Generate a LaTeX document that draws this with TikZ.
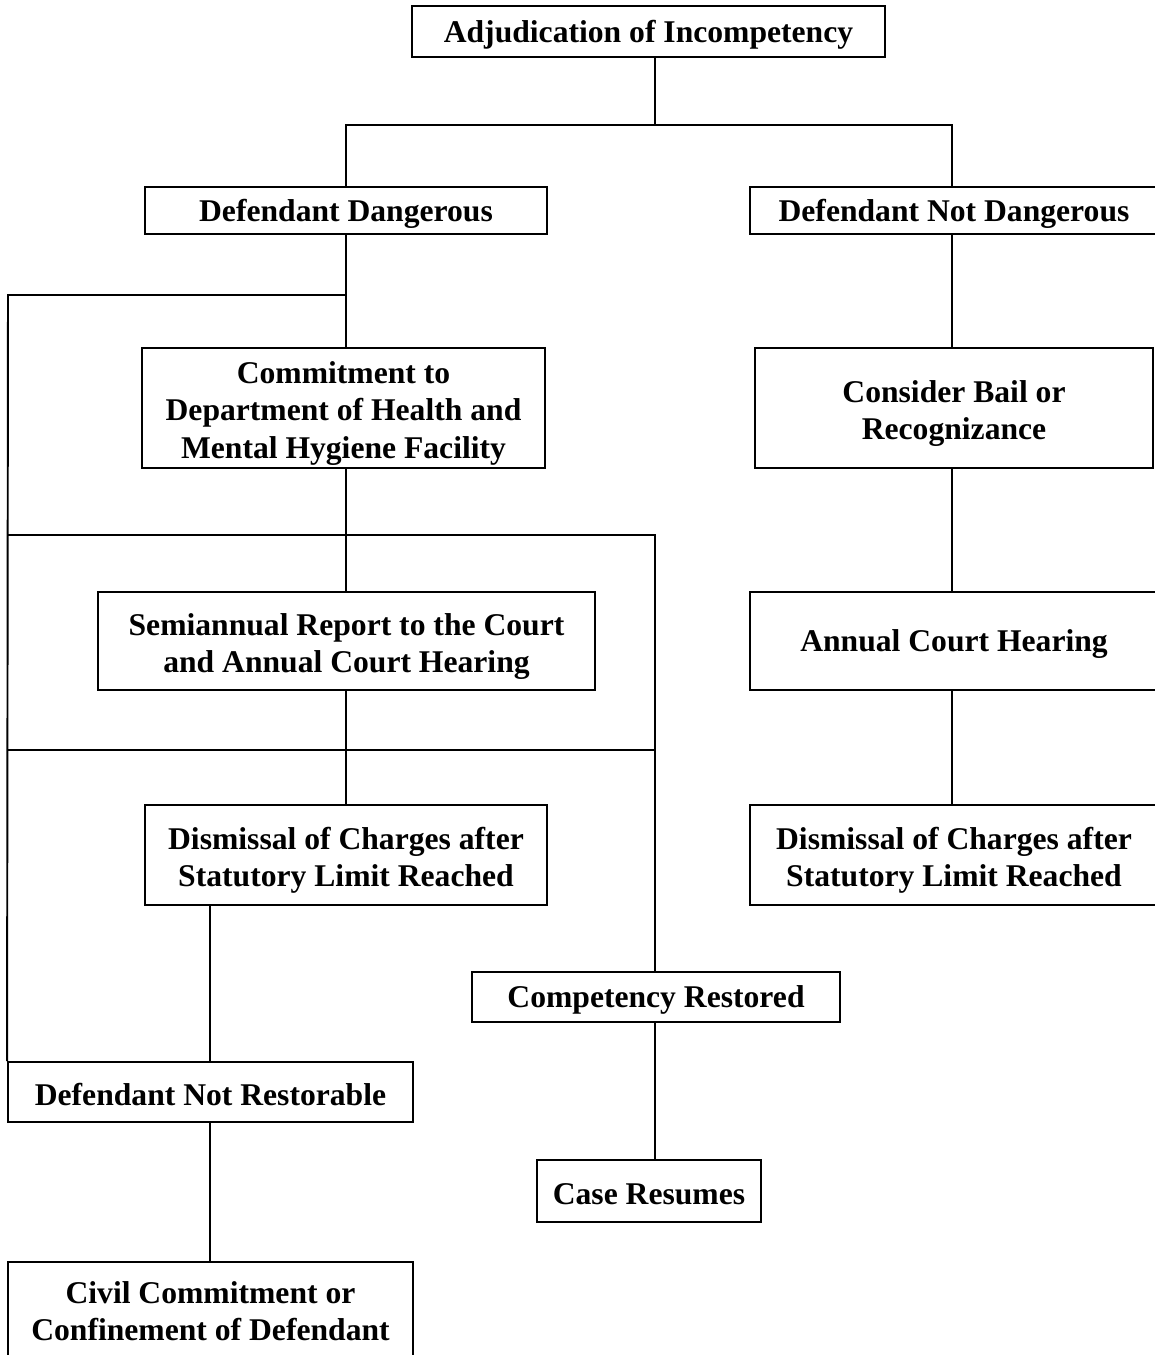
\documentclass[tikz,border=0pt]{standalone}
\usepackage{fontspec}
\setmainfont{Liberation Serif}
\begin{document}
\begin{tikzpicture}[x=0.02cm,y=-0.02cm,
  bw/.style={minimum width=#1*0.02cm},
  bh/.style={minimum height=#1*0.02cm},
  box/.style={draw,line width=1.1pt,inner sep=0pt},
  txt/.style={align=center,inner sep=0pt,label distance=0pt,yshift=-0.06cm,
    font=\fontsize{18}{21.3}\selectfont\bfseries},
  txtm/.style={txt,yshift=-0.05cm},
  conn/.style={line width=1.1pt}]
\useasboundingbox[fill=white] (0,0) rectangle (1154,1355);
% nodes
\node[box,bw=473,bh=51,label={[txt]center:Adjudication of Incompetency}] (adj) at (648.5,31.5) {};
\node[box,bw=402,bh=47,label={[txt]center:Defendant Dangerous}] (dd) at (346,210.5) {};
\node[box,bw=408,bh=47,label={[txt]center:Defendant Not Dangerous}] (nd) at (954,210.5) {};
\node[box,bw=403,bh=120,label={[txtm]center:{Commitment to\\Department of Health and\\Mental Hygiene Facility}}] (com) at (343.5,408) {};
\node[box,bw=398,bh=120,label={[txtm]center:{Consider Bail or\\Recognizance}}] (bail) at (954,408) {};
\node[box,bw=497,bh=98,label={[txtm]center:{Semiannual Report to the Court\\and Annual Court Hearing}}] (semi) at (346.5,641) {};
\node[box,bw=408,bh=98,label={[txt]center:Annual Court Hearing}] (ach) at (954,641) {};
\node[box,bw=402,bh=100,label={[txtm]center:{Dismissal of Charges after\\Statutory Limit Reached}}] (dis1) at (346,855) {};
\node[box,bw=408,bh=100,label={[txtm]center:{Dismissal of Charges after\\Statutory Limit Reached}}] (dis2) at (954,855) {};
\node[box,bw=368,bh=50,label={[txt]center:Competency Restored}] (cr) at (656,997) {};
\node[box,bw=405,bh=60,label={[txt]center:Defendant Not Restorable}] (nr) at (210.5,1092) {};
\node[box,bw=224,bh=62,label={[txt]center:Case Resumes}] (case) at (649,1191) {};
\node[box,bw=405,bh=98,label={[txt,yshift=0.06cm]center:{Civil Commitment or\\Confinement of Defendant}}] (civ) at (210.5,1311) {};
% junction coordinates
\coordinate (j1) at (655,125);
\coordinate (tL) at (346,125);
\coordinate (tR) at (952,125);
\coordinate (k1) at (346,295);
\coordinate (e1) at (8,295);
\coordinate (k2) at (346,535);
\coordinate (e2) at (8,535);
\coordinate (r2) at (655,535);
\coordinate (k3) at (346,750);
\coordinate (e3) at (8,750);
\coordinate (r3) at (655,750);
\coordinate (d1) at (210,905);
% connectors
\draw[conn] (adj.south -| j1) -- (j1);
\draw[conn] (dd.north -| tL) -- (tL) -- (tR) -- (nd.north -| tR);
\draw[conn] (dd.south -| k1) -- (com.north -| k1);
\draw[conn] (k1) -- (e1) -- (nr.north west);
\draw[conn] (com.south -| k2) -- (semi.north -| k2);
\draw[conn] (e2) -- (r2) -- (cr.north -| r2);
\draw[conn] (semi.south -| k3) -- (dis1.north -| k3);
\draw[conn] (e3) -- (r3);
\draw[conn] (dis1.south -| d1) -- (nr.north -| d1);
\draw[conn] (nr.south -| d1) -- (civ.north -| d1);
\draw[conn] (cr.south -| r2) -- (case.north -| r2);
\draw[conn] (nd.south -| tR) -- (bail.north -| tR);
\draw[conn] (bail.south -| tR) -- (ach.north -| tR);
\draw[conn] (ach.south -| tR) -- (dis2.north -| tR);
\end{tikzpicture}
\end{document}
